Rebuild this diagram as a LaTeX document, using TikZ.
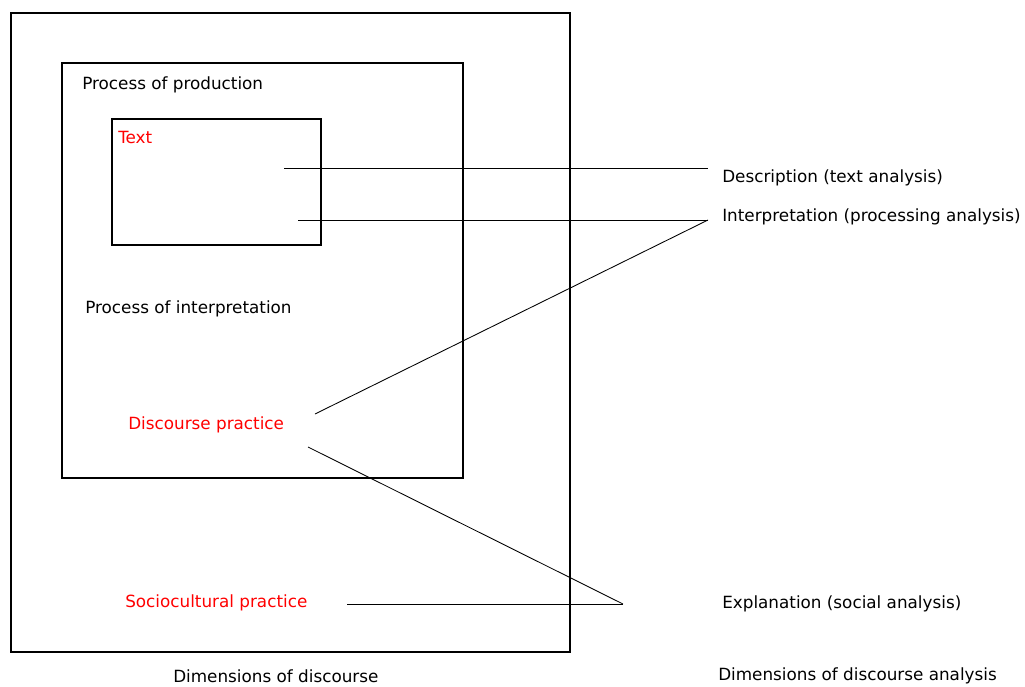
\documentclass[tikz,border=0pt]{standalone}
\usepackage{fontspec}
\setmainfont{DejaVu Sans}
\usetikzlibrary{positioning}

\begin{document}
\begin{tikzpicture}
    [
        x=0.75pt, y=-0.75pt,
        box/.style={draw=black, line width=0.8pt},
        link/.style={draw=black, line width=0.65pt},
        black_label/.style={anchor=west, inner sep=0pt, font=\fontsize{12.6}{14}\selectfont, text=black},
        red_label/.style={anchor=west, inner sep=0pt, font=\fontsize{12.6}{14}\selectfont, text=red},
    ]
        \useasboundingbox (0,0) rectangle (1025,686) ;
        \draw[box] (11,13) rectangle (570,652) ;
        \draw[box] (62,63) rectangle (463,478) ;
        \draw[box] (112,119) rectangle (321,245) ;
        \node[black_label] (production) at (82,85) {Process of production} ;
        \node[red_label] (text) at (118,137) {Text} ;
        \node[black_label] (interp) at (85,309) {Process of interpretation} ;
        \node[red_label] (discourse) at (128,425) {Discourse practice} ;
        \node[red_label] (socio) at (125,603) {Sociocultural practice} ;
        \node[black_label] (dimdisc) at (173,676) {Dimensions of discourse} ;
        \node[black_label] (descr) at (722,178) {Description (text analysis)} ;
        \node[black_label] (interpret) at (722,217) {Interpretation (processing analysis)} ;
        \node[black_label] (explain) at (722,604) {Explanation (social analysis)} ;
        \node[black_label] (dimanal) at (718,676) {Dimensions of discourse analysis} ;
        \coordinate (t1) at (284,168) ;
        \coordinate (t2) at (298,220) ;
        \coordinate (d1) at (315,414) ;
        \coordinate (d2) at (308,447) ;
        \coordinate (s1) at (347,604) ;
        \coordinate (j1) at (708,168) ;
        \coordinate (j2) at (708,220) ;
        \coordinate (j3) at (623,604) ;
        \draw[link] (t1) -- (j1) ;
        \draw[link] (t2) -- (j2) ;
        \draw[link] (d1) -- (j2) ;
        \draw[link] (d2) -- (j3) ;
        \draw[link] (s1) -- (j3) ;
    \end{tikzpicture}
\end{document}
